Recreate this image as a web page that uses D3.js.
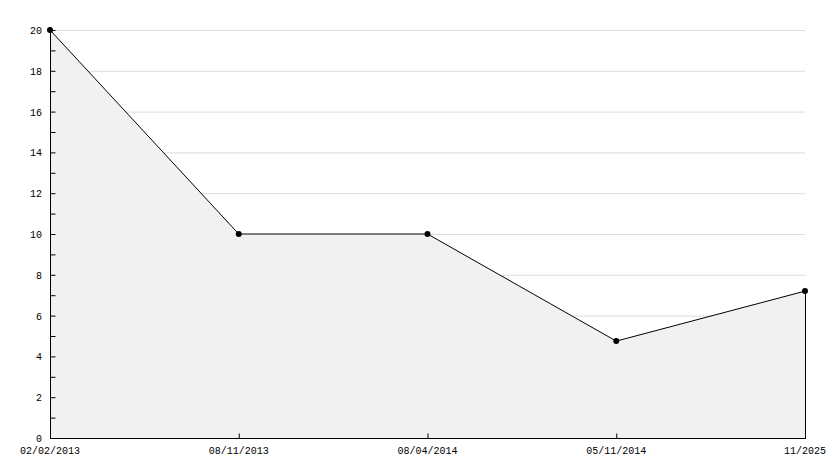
<!DOCTYPE html>
<html><head><meta charset="utf-8">
<script src="https://cdn.jsdelivr.net/npm/d3@7"></script>
<style>body{margin:0;background:#fff}svg{display:block}text{font-family:"Liberation Mono","DejaVu Sans Mono",monospace;font-size:10px;fill:#000}</style>
</head><body><svg id="c" width="834" height="468"></svg>
<script>
const categories = ["02/02/2013","08/11/2013","08/04/2014","05/11/2014","11/2025"];
const values = [20, 10, 10, 4.75, 7.2];
const yTicks = [0,2,4,6,8,10,12,14,16,18,20];

const svg = d3.select("#c");
const L = 50, R = 805, T = 30, B = 438;
const x = d3.scalePoint().domain(categories).range([L, R]);
const y = d3.scaleLinear().domain([0, 20]).range([B, T]);

// gridlines
svg.append("g").selectAll("line").data(yTicks.filter(d=>d>0)).join("line")
  .attr("x1", L).attr("x2", R).attr("y1", d=>y(d)+0.5).attr("y2", d=>y(d)+0.5)
  .attr("stroke", "#dcdcdc");

const data = categories.map((c,i)=>({c, v: values[i]}));
svg.append("path").datum(data)
  .attr("d", d3.area().x(d=>x(d.c)).y0(y(0)).y1(d=>y(d.v)))
  .attr("fill", "#f1f1f1");
svg.append("line").attr("x1", R+0.5).attr("x2", R+0.5)
  .attr("y1", y(values[values.length-1])).attr("y2", B).attr("stroke", "#000");
svg.append("path").datum(data)
  .attr("d", d3.line().x(d=>x(d.c)).y(d=>y(d.v)))
  .attr("fill", "none").attr("stroke", "#000").attr("stroke-width", 1);

// y axis
const ya = d3.axisRight(y).tickValues(yTicks).tickSize(5).tickFormat(()=> "");
const gy = svg.append("g").attr("transform", `translate(${L+0.5},0)`).call(ya);
gy.select(".domain").attr("d", `M0,${T-2}V${B}`);
const minor = d3.range(1, 20, 2);
gy.selectAll(".minor").data(minor).join("line").attr("class","minor")
  .attr("x1",0).attr("x2",5).attr("y1",d=>y(d)+0.5).attr("y2",d=>y(d)+0.5).attr("stroke","#000");
svg.append("g").selectAll("text").data(yTicks).join("text")
  .attr("x", 42).attr("y", d=>y(d)+4).attr("text-anchor","end").text(d=>d);

// x axis
const xa = d3.axisTop(x).tickSize(5).tickFormat(()=> "");
const gx = svg.append("g").attr("transform", `translate(0,${B+0.5})`).call(xa);
gx.select(".domain").attr("d", `M${L},0H${R+1}`);
svg.append("g").selectAll("text").data(categories).join("text")
  .attr("x", d=>x(d)).attr("y", 454).attr("text-anchor","middle").text(d=>d);

// markers
svg.append("g").selectAll("circle").data(data).join("circle")
  .attr("cx", d=>x(d.c)).attr("cy", d=>y(d.v)).attr("r", 3).attr("fill","#000");
</script></body></html>
